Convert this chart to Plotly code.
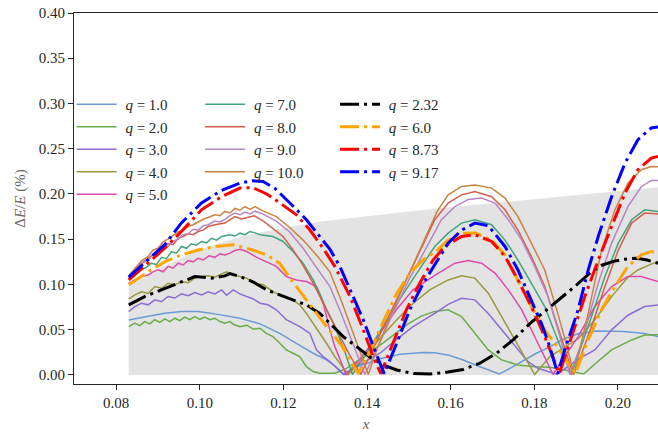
import plotly.graph_objects as go

# ---------------------------------------------------------------------------
# Data: each series is a list of (x, dE/E [%]) points
# ---------------------------------------------------------------------------

# Upper envelope of the shaded band (band spans from 0 up to this curve)
BAND = [(0.083, 0.098), (0.09, 0.117), (0.095, 0.128), (0.10, 0.138), (0.105, 0.146),
        (0.11, 0.153), (0.115, 0.158), (0.12, 0.1625), (0.125, 0.1665), (0.13, 0.170),
        (0.135, 0.1728), (0.14, 0.1755), (0.15, 0.1805), (0.16, 0.1852), (0.17, 0.1898),
        (0.18, 0.1942), (0.19, 0.1987), (0.20, 0.2031), (0.2096, 0.2075), (0.212, 0.2086)]

Q1 = [(0.0830, 0.0608), (0.0876, 0.0652), (0.0916, 0.0682), (0.0956, 0.0700), (0.0996, 0.0700),
      (0.1036, 0.0675), (0.1070, 0.0652), (0.1096, 0.0627), (0.1144, 0.0565), (0.1191, 0.0460),
      (0.1231, 0.0350), (0.1271, 0.0240), (0.1303, 0.0166), (0.1323, 0.0100), (0.1342, 0.0010),
      (0.1370, 0.0080), (0.1431, 0.0180), (0.1480, 0.0230), (0.1534, 0.0247), (0.1562, 0.0245),
      (0.1598, 0.0215), (0.1630, 0.0165), (0.1662, 0.0105), (0.1695, 0.0045), (0.1716, 0.0010),
      (0.1745, 0.0080), (0.1770, 0.0147), (0.1805, 0.0240), (0.1837, 0.0310), (0.1869, 0.0395),
      (0.1905, 0.0455), (0.1949, 0.0485), (0.2013, 0.0480), (0.2060, 0.0460), (0.2096, 0.0424)]

Q2 = [(0.0830, 0.0534), (0.08445, 0.0572), (0.08565, 0.0545), (0.08684, 0.0590), (0.08804, 0.0565),
      (0.08923, 0.0610), (0.09043, 0.0580), (0.09163, 0.0620), (0.09282, 0.0590), (0.09402, 0.0627),
      (0.09521, 0.0600), (0.09641, 0.0640), (0.0976, 0.0610), (0.0988, 0.0645), (0.1000, 0.0615),
      (0.1012, 0.0640), (0.1024, 0.0610), (0.1036, 0.0627), (0.1048, 0.0590), (0.1060, 0.0572),
      (0.1072, 0.0590), (0.1080, 0.0560), (0.1096, 0.0534), (0.1112, 0.0550), (0.1128, 0.0506),
      (0.1144, 0.0517), (0.1159, 0.0460), (0.1175, 0.0424), (0.1191, 0.0350), (0.1207, 0.0277),
      (0.1223, 0.0240), (0.1239, 0.0203), (0.1255, 0.0092), (0.1271, 0.0037), (0.1287, 0.0018),
      (0.1305, 0.0015), (0.1323, 0.0020), (0.1350, 0.0070), (0.1380, 0.0160), (0.1410, 0.0260),
      (0.1440, 0.0360), (0.1470, 0.0470), (0.1500, 0.0570), (0.1530, 0.0650), (0.1560, 0.0700),
      (0.1594, 0.0720), (0.1626, 0.0645), (0.1658, 0.0460), (0.1690, 0.0277), (0.1722, 0.0166),
      (0.1761, 0.0110), (0.1801, 0.0092), (0.1837, 0.0085), (0.1873, 0.0055), (0.1918, 0.0010),
      (0.1950, 0.0140), (0.1985, 0.0277), (0.2033, 0.0387), (0.2064, 0.0442), (0.2096, 0.0445)]

Q3 = [(0.0830, 0.0700), (0.08445, 0.0756), (0.08604, 0.0793), (0.08764, 0.0775), (0.08923, 0.0830),
      (0.09083, 0.0810), (0.09242, 0.0867), (0.09402, 0.0850), (0.09561, 0.0896), (0.0972, 0.0875),
      (0.0988, 0.0910), (0.1004, 0.0885), (0.1020, 0.0920), (0.1036, 0.0896), (0.1052, 0.0940),
      (0.1064, 0.0880), (0.1080, 0.0940), (0.1096, 0.0896), (0.1112, 0.0867), (0.1128, 0.0840),
      (0.1144, 0.0793), (0.1163, 0.0775), (0.1183, 0.0720), (0.1207, 0.0610), (0.1239, 0.0534),
      (0.1263, 0.0460), (0.1279, 0.0277), (0.1295, 0.0203), (0.1311, 0.0147), (0.1330, 0.0070),
      (0.1345, 0.0005), (0.1370, 0.0080), (0.1400, 0.0160), (0.1431, 0.0240), (0.1470, 0.0390),
      (0.1510, 0.0534), (0.1562, 0.0680), (0.1594, 0.0780), (0.1626, 0.0848), (0.1658, 0.0830),
      (0.1690, 0.0680), (0.1722, 0.0498), (0.1754, 0.0313), (0.1785, 0.0147), (0.1809, 0.0074),
      (0.1837, 0.0037), (0.1855, 0.0005), (0.1900, 0.0160), (0.1945, 0.0277), (0.1985, 0.0498),
      (0.2024, 0.0660), (0.2064, 0.0756), (0.2096, 0.0774)]

Q4 = [(0.0830, 0.0837), (0.08445, 0.0885), (0.08604, 0.0920), (0.08764, 0.0900), (0.08923, 0.0977),
      (0.09083, 0.0958), (0.09242, 0.1014), (0.09402, 0.0996), (0.09561, 0.1032), (0.0972, 0.1020),
      (0.0988, 0.1070), (0.1004, 0.1087), (0.1020, 0.1095), (0.1036, 0.1080), (0.1052, 0.1117),
      (0.1064, 0.1140), (0.1080, 0.1105), (0.1096, 0.1087), (0.1112, 0.1070), (0.1128, 0.1014),
      (0.1152, 0.0996), (0.1175, 0.0920), (0.1199, 0.0867), (0.1223, 0.0830), (0.1239, 0.0775),
      (0.1255, 0.0680), (0.1271, 0.0572), (0.1287, 0.0460), (0.1303, 0.0350), (0.1323, 0.0203),
      (0.1355, 0.0005), (0.1390, 0.0180), (0.1430, 0.0400), (0.1471, 0.0610), (0.1510, 0.0790),
      (0.1550, 0.0940), (0.1594, 0.1050), (0.1626, 0.1095), (0.1658, 0.1070), (0.1690, 0.0903),
      (0.1722, 0.0645), (0.1754, 0.0387), (0.1777, 0.0202), (0.1801, 0.0005), (0.1837, 0.0202),
      (0.1870, 0.0300), (0.1905, 0.0400), (0.1945, 0.0610), (0.1985, 0.0866), (0.2024, 0.1080),
      (0.2048, 0.1160), (0.2080, 0.1225), (0.2096, 0.1253)]

Q5 = [(0.0830, 0.1014), (0.08445, 0.1050), (0.08604, 0.1087), (0.08764, 0.1105), (0.0888, 0.1140),
      (0.0900, 0.1162), (0.0912, 0.1140), (0.09242, 0.1200), (0.0936, 0.1180), (0.0948, 0.1235),
      (0.0960, 0.1215), (0.0972, 0.1265), (0.0984, 0.1250), (0.0996, 0.1290), (0.1008, 0.1270),
      (0.1022, 0.1316), (0.1036, 0.1300), (0.1048, 0.1340), (0.1060, 0.1327), (0.1072, 0.1346),
      (0.1084, 0.1375), (0.1096, 0.1390), (0.1112, 0.1365), (0.1136, 0.1300), (0.1159, 0.1253),
      (0.1183, 0.1200), (0.1207, 0.1087), (0.1231, 0.1050), (0.1255, 0.1032), (0.1279, 0.0977),
      (0.1295, 0.0793), (0.1311, 0.0498), (0.1323, 0.0313), (0.1350, 0.0005), (0.1380, 0.0160),
      (0.1431, 0.0460), (0.1470, 0.0720), (0.1510, 0.0940), (0.1562, 0.1100), (0.1610, 0.1235),
      (0.1642, 0.1264), (0.1674, 0.1235), (0.1706, 0.1125), (0.1738, 0.0940), (0.1770, 0.0720),
      (0.1793, 0.0498), (0.1817, 0.0277), (0.1845, 0.0005), (0.1875, 0.0220), (0.1905, 0.0424),
      (0.1945, 0.0756), (0.1985, 0.0977), (0.2024, 0.1087), (0.2056, 0.1087), (0.2096, 0.1032)]

Q7 = [(0.0830, 0.1058), (0.08445, 0.1100), (0.08604, 0.1162), (0.0872, 0.1190), (0.08844, 0.1235),
      (0.0896, 0.1220), (0.09083, 0.1300), (0.0920, 0.1285), (0.09322, 0.1364), (0.0944, 0.1346),
      (0.09561, 0.1420), (0.0968, 0.1400), (0.0980, 0.1450), (0.0992, 0.1435), (0.1004, 0.1475),
      (0.1016, 0.1460), (0.1028, 0.1510), (0.1040, 0.1490), (0.1052, 0.1530), (0.1064, 0.1537),
      (0.1072, 0.1550), (0.1084, 0.1535), (0.1096, 0.1567), (0.1108, 0.1550), (0.1120, 0.1585),
      (0.1132, 0.1570), (0.1144, 0.1550), (0.1175, 0.1530), (0.1199, 0.1475), (0.1223, 0.1364),
      (0.1247, 0.1235), (0.1271, 0.1050), (0.1287, 0.0900), (0.1303, 0.0720), (0.1323, 0.0534),
      (0.1345, 0.0280), (0.1365, 0.0005), (0.1400, 0.0250), (0.1440, 0.0550), (0.1480, 0.0850),
      (0.1520, 0.1130), (0.1562, 0.1420), (0.1594, 0.1567), (0.1626, 0.1678), (0.1658, 0.1715),
      (0.1698, 0.1660), (0.1730, 0.1490), (0.1761, 0.1270), (0.1793, 0.1014), (0.1825, 0.0756),
      (0.1855, 0.0400), (0.1889, 0.0005), (0.1937, 0.0645), (0.1969, 0.1087), (0.2001, 0.1457),
      (0.2033, 0.1715), (0.2064, 0.1825), (0.2096, 0.1807)]

Q8 = [(0.0830, 0.1080), (0.08445, 0.1162), (0.08604, 0.1235), (0.08764, 0.1290), (0.0888, 0.1320),
      (0.0898, 0.1364), (0.0912, 0.1380), (0.0924, 0.1450), (0.0936, 0.1440), (0.0948, 0.1510),
      (0.0960, 0.1530), (0.0972, 0.1560), (0.0984, 0.1550), (0.0996, 0.1585), (0.1008, 0.1600),
      (0.1020, 0.1640), (0.1036, 0.1660), (0.1048, 0.1670), (0.1060, 0.1678), (0.1072, 0.1715),
      (0.1084, 0.1751), (0.1100, 0.1725), (0.1116, 0.1745), (0.1130, 0.1760), (0.1152, 0.1700),
      (0.1175, 0.1620), (0.1199, 0.1530), (0.1223, 0.1383), (0.1247, 0.1210), (0.1271, 0.1014),
      (0.1295, 0.0793), (0.1323, 0.0534), (0.1355, 0.0250), (0.1385, 0.0005), (0.1420, 0.0340),
      (0.1460, 0.0720), (0.1500, 0.1100), (0.1535, 0.1450), (0.1562, 0.1715), (0.1594, 0.1900),
      (0.1626, 0.1990), (0.1658, 0.2028), (0.1698, 0.1970), (0.1730, 0.1825), (0.1761, 0.1600),
      (0.1793, 0.1310), (0.1825, 0.0977), (0.1855, 0.0550), (0.1893, 0.0005), (0.1905, 0.0130),
      (0.1937, 0.0534), (0.1969, 0.0977), (0.2001, 0.1380), (0.2033, 0.1678), (0.2064, 0.1789),
      (0.2096, 0.1780)]

Q9 = [(0.0830, 0.1070), (0.08445, 0.1150), (0.08604, 0.1230), (0.08764, 0.1270), (0.0888, 0.1330),
      (0.0900, 0.1350), (0.0912, 0.1410), (0.0924, 0.1420), (0.0936, 0.1480), (0.0948, 0.1500),
      (0.0960, 0.1550), (0.0972, 0.1560), (0.0984, 0.1610), (0.0996, 0.1600), (0.1008, 0.1650),
      (0.1020, 0.1660), (0.1036, 0.1700), (0.1048, 0.1690), (0.1060, 0.1720), (0.1072, 0.1760),
      (0.1084, 0.1790), (0.1096, 0.1770), (0.1108, 0.1800), (0.1120, 0.1780), (0.1132, 0.1810),
      (0.1150, 0.1780), (0.1183, 0.1700), (0.1215, 0.1580), (0.1247, 0.1400), (0.1280, 0.1180),
      (0.1311, 0.0980), (0.1340, 0.0660), (0.1370, 0.0300), (0.1395, 0.0005), (0.1425, 0.0300),
      (0.1460, 0.0660), (0.1500, 0.1050), (0.1540, 0.1400), (0.1578, 0.1715), (0.1610, 0.1860),
      (0.1642, 0.1940), (0.1674, 0.1955), (0.1706, 0.1900), (0.1738, 0.1715), (0.1770, 0.1490),
      (0.1801, 0.1200), (0.1833, 0.0866), (0.1860, 0.0450), (0.1885, 0.0005), (0.1913, 0.0350),
      (0.1953, 0.1014), (0.1985, 0.1457), (0.2024, 0.1860), (0.2056, 0.2080), (0.2080, 0.2150),
      (0.2096, 0.2150)]

Q10 = [(0.0830, 0.1100), (0.08445, 0.1180), (0.08604, 0.1260), (0.08764, 0.1310), (0.0888, 0.1380),
       (0.0900, 0.1400), (0.0912, 0.1470), (0.0924, 0.1500), (0.0936, 0.1540), (0.0948, 0.1580),
       (0.0960, 0.1600), (0.0972, 0.1640), (0.0984, 0.1660), (0.0996, 0.1690), (0.1008, 0.1720),
       (0.1020, 0.1740), (0.1036, 0.1770), (0.1048, 0.1760), (0.1060, 0.1807), (0.1072, 0.1790),
       (0.1084, 0.1840), (0.1096, 0.1820), (0.1108, 0.1860), (0.1120, 0.1830), (0.1132, 0.1860),
       (0.1152, 0.1810), (0.1183, 0.1750), (0.1215, 0.1630), (0.1247, 0.1490), (0.1280, 0.1320),
       (0.1311, 0.1140), (0.1340, 0.0800), (0.1370, 0.0420), (0.1403, 0.0005), (0.1423, 0.0277),
       (0.1455, 0.0645), (0.1494, 0.1050), (0.1534, 0.1457), (0.1568, 0.1810), (0.1594, 0.1990),
       (0.1626, 0.2083), (0.1658, 0.2100), (0.1698, 0.2065), (0.1730, 0.1955), (0.1761, 0.1750),
       (0.1793, 0.1457), (0.1825, 0.1160), (0.1855, 0.0700), (0.1878, 0.0320), (0.1895, 0.0005),
       (0.1929, 0.0680), (0.1961, 0.1380), (0.1993, 0.1825), (0.2024, 0.2120), (0.2056, 0.2268),
       (0.2080, 0.2304), (0.2096, 0.2300)]

Q232 = [(0.0830, 0.0774), (0.0868, 0.0866), (0.0908, 0.0940), (0.0948, 0.1014), (0.0988, 0.1087),
        (0.1028, 0.1070), (0.1060, 0.1095), (0.1072, 0.1120), (0.1096, 0.1087), (0.1127, 0.1030),
        (0.1160, 0.0940), (0.1191, 0.0885), (0.1223, 0.0830), (0.1255, 0.0774), (0.1287, 0.0680),
        (0.1311, 0.0572), (0.1343, 0.0424), (0.1375, 0.0313), (0.1406, 0.0202), (0.1438, 0.0110),
        (0.1471, 0.0055), (0.1511, 0.0015), (0.1551, 0.0010), (0.1590, 0.0030), (0.1630, 0.0060),
        (0.1670, 0.0130), (0.1710, 0.0240), (0.1750, 0.0390), (0.1790, 0.0570), (0.1830, 0.0720),
        (0.1869, 0.0866), (0.1900, 0.0990), (0.1933, 0.1125), (0.1960, 0.1210), (0.1989, 0.1255),
        (0.2017, 0.1280), (0.2045, 0.1290), (0.2070, 0.1270), (0.2096, 0.1235)]

Q60 = [(0.0830, 0.0996), (0.0876, 0.1140), (0.0916, 0.1250), (0.0956, 0.1327), (0.0996, 0.1380),
       (0.1036, 0.1420), (0.1080, 0.1438), (0.1127, 0.1380), (0.1160, 0.1327), (0.1191, 0.1235),
       (0.1207, 0.1125), (0.1231, 0.0977), (0.1255, 0.0830), (0.1279, 0.0680), (0.1303, 0.0534),
       (0.1323, 0.0424), (0.1340, 0.0320), (0.1359, 0.0166), (0.1379, 0.0015), (0.1409, 0.0277),
       (0.1441, 0.0610), (0.1471, 0.0900), (0.1502, 0.1125), (0.1534, 0.1270), (0.1566, 0.1370),
       (0.1594, 0.1490), (0.1634, 0.1567), (0.1660, 0.1570), (0.1698, 0.1490), (0.1730, 0.1327),
       (0.1761, 0.1050), (0.1793, 0.0756), (0.1825, 0.0498), (0.1857, 0.0300), (0.1881, 0.0130),
       (0.1898, 0.0015), (0.1929, 0.0387), (0.1961, 0.0720), (0.1993, 0.0977), (0.2024, 0.1200),
       (0.2056, 0.1327), (0.2080, 0.1364), (0.2096, 0.1350)]

Q873 = [(0.0830, 0.1050), (0.0876, 0.1235), (0.0916, 0.1400), (0.0956, 0.1585), (0.1004, 0.1825),
        (0.1052, 0.1970), (0.1096, 0.2065), (0.1127, 0.2070), (0.1160, 0.2000), (0.1192, 0.1900),
        (0.1231, 0.1770), (0.1263, 0.1604), (0.1295, 0.1400), (0.1323, 0.1200), (0.1359, 0.0870),
        (0.1391, 0.0500), (0.1415, 0.0202), (0.1433, 0.0015), (0.1462, 0.0350), (0.1494, 0.0720),
        (0.1526, 0.1014), (0.1558, 0.1270), (0.1586, 0.1420), (0.1626, 0.1530), (0.1658, 0.1550),
        (0.1698, 0.1475), (0.1730, 0.1310), (0.1761, 0.1050), (0.1793, 0.0756), (0.1825, 0.0424),
        (0.1860, 0.0015), (0.1889, 0.0424), (0.1921, 0.0866), (0.1953, 0.1270), (0.1985, 0.1640),
        (0.2017, 0.2010), (0.2048, 0.2268), (0.2080, 0.2397), (0.2096, 0.2415)]

Q917 = [(0.0830, 0.1080), (0.0876, 0.1270), (0.0916, 0.1440), (0.0956, 0.1680), (0.1004, 0.1900),
        (0.1052, 0.2040), (0.1096, 0.2120), (0.1125, 0.2145), (0.1151, 0.2138), (0.1180, 0.2060),
        (0.1207, 0.1940), (0.1231, 0.1830), (0.1255, 0.1715), (0.1287, 0.1530), (0.1311, 0.1390),
        (0.1335, 0.1200), (0.1359, 0.0940), (0.1391, 0.0610), (0.1415, 0.0313), (0.1441, 0.0015),
        (0.1471, 0.0350), (0.1502, 0.0720), (0.1534, 0.1010), (0.1566, 0.1250), (0.1594, 0.1457),
        (0.1626, 0.1600), (0.1658, 0.1678), (0.1690, 0.1650), (0.1730, 0.1420), (0.1761, 0.1160),
        (0.1793, 0.0830), (0.1817, 0.0570), (0.1837, 0.0313), (0.1856, 0.0015), (0.1873, 0.0277),
        (0.1905, 0.0720), (0.1929, 0.1160), (0.1953, 0.1530), (0.1985, 0.1970), (0.2017, 0.2340),
        (0.2048, 0.2600), (0.2080, 0.2730), (0.2096, 0.2740)]

THIN_LABELS = ["1.0", "2.0", "3.0", "4.0", "5.0", "7.0", "8.0", "9.0", "10.0"]
THIN_SERIES = [Q1, Q2, Q3, Q4, Q5, Q7, Q8, Q9, Q10]
THIN_COLORS = ["#6a9bd6", "#68ad48", "#8c6cd6", "#9a983c", "#e04aaa",
               "#43a47f", "#d45f4b", "#b586c4", "#c78443"]

THICK_LABELS = ["2.32", "6.0", "8.73", "9.17"]
THICK_SERIES = [Q232, Q60, Q873, Q917]
THICK_COLORS = ["#000000", "#ffa500", "#ff0000", "#0000ff"]

# ---------------------------------------------------------------------------
SERIF = "'Liberation Serif', 'Times New Roman', Times, serif"
PAD = "\u00a0"

fig = go.Figure()

# shaded band from zero up to the envelope
fig.add_trace(go.Scatter(
    x=[p[0] for p in BAND], y=[p[1] for p in BAND],
    mode="lines", line=dict(width=0), fill="tozeroy", fillcolor="#e3e3e3",
    showlegend=False, hoverinfo="skip"))

for i, (lab, pts, col) in enumerate(zip(THIN_LABELS, THIN_SERIES, THIN_COLORS)):
    fig.add_trace(go.Scatter(
        x=[p[0] for p in pts], y=[p[1] for p in pts], mode="lines",
        line=dict(color=col, width=1.5),
        name=f"{PAD}<i>q</i> = {lab}",
        legend="legend" if i < 5 else "legend2"))

for lab, pts, col in zip(THICK_LABELS, THICK_SERIES, THICK_COLORS):
    fig.add_trace(go.Scatter(
        x=[p[0] for p in pts], y=[p[1] for p in pts], mode="lines",
        line=dict(color=col, width=3, dash="19px,5px,3px,5px"),
        name=f"{PAD}<i>q</i> = {lab}",
        legend="legend3"))

axis_common = dict(
    showline=True, linecolor="#262626", linewidth=1.2,
    ticks="outside", ticklen=5, tickwidth=1, tickcolor="#262626",
    showgrid=False, zeroline=False,
    tickfont=dict(family=SERIF, size=15, color="#262626"),
)

fig.update_xaxes(
    range=[0.0699, 0.2096], tickvals=[0.08, 0.10, 0.12, 0.14, 0.16, 0.18, 0.20],
    tickformat=".2f", mirror=True,
    title=dict(text="<i>x</i>", font=dict(family=SERIF, size=15, color="#666666"), standoff=9),
    **axis_common)
fig.update_yaxes(
    range=[-0.01, 0.40], dtick=0.05, tick0=0, tickformat=".2f", mirror=False,
    title=dict(text="Δ<i>E</i>/<i>E</i> (%)", font=dict(family=SERIF, size=15, color="#666666"),
               standoff=9),
    **axis_common)

legend_common = dict(
    xanchor="left", yanchor="top", bgcolor="rgba(0,0,0,0)", borderwidth=0,
    itemwidth=40, tracegroupgap=0,
    font=dict(family=SERIF, size=15, color="#262626"),
)

fig.update_layout(
    width=658, height=432,
    margin=dict(l=74, r=0, t=13, b=48),
    paper_bgcolor="white", plot_bgcolor="white",
    showlegend=True,
    legend=dict(x=-0.004, y=0.798, **legend_common),
    legend2=dict(x=0.216, y=0.798, **legend_common),
    legend3=dict(x=0.447, y=0.798, **legend_common),
)

fig.write_html("out.html")
